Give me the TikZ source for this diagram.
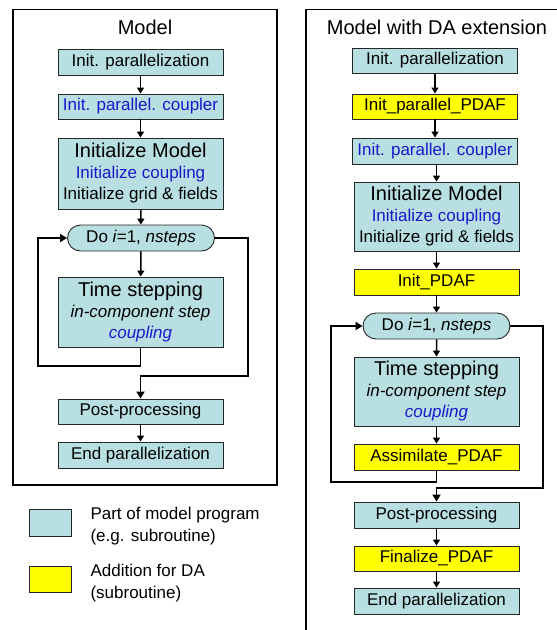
\documentclass[tikz,border=0pt]{standalone}
\usepackage{fontspec}
\setmainfont{Liberation Sans}
\usetikzlibrary{arrows.meta,shapes.misc}
\definecolor{modfill}{RGB}{184,223,226}
\definecolor{dablue}{RGB}{25,25,204}
\definecolor{pdafyellow}{RGB}{255,255,0}
\newcommand{\bigtxt}{\fontsize{20}{23}\selectfont}
\begin{document}
\begin{tikzpicture}[x=1pt,y=-1pt,
  modbox/.style={draw=black!85, line width=0.9pt, fill=modfill, minimum width=165pt,
    inner sep=1pt, align=center, font=\fontsize{17}{21}\selectfont},
  pdafbox/.style={modbox, fill=pdafyellow},
  doloop/.style={rounded rectangle, draw=black!85, line width=0.9pt, fill=modfill,
    minimum width=149pt, minimum height=26pt, inner sep=1pt, font=\fontsize{17}{21}\selectfont},
  arr/.style={line width=1.5pt, -{Triangle[length=6pt,width=7pt]}},
  loopline/.style={line width=1.8pt, -{Triangle[length=7pt,width=8pt]}},
  framel/.style={line width=1.5pt},
  titletxt/.style={font=\bigtxt},
  legtxt/.style={anchor=west, align=left, font=\fontsize{17}{22}\selectfont}]
\useasboundingbox (0,0) rectangle (557,630);
% frames
\draw[framel] (13,9.5) rectangle (277,485);
\draw[framel] (560,9.5) -- (306,9.5) -- (306,635);
% titles
\node[titletxt] (ltitle) at (145,27) {Model};
\node[titletxt] (rtitle) at (437,27) {Model with DA extension};
% left column
\node[modbox, minimum height=26pt] (l1) at (140.5,62) {Init. parallelization};
\node[modbox, minimum height=25pt] (l2) at (140.5,106.5) {\color{dablue}Init. parallel. coupler};
\node[modbox, minimum height=71pt] (l3) at (140.5,173.5) {{\bigtxt Initialize Model}\\{\color{dablue}Initialize coupling}\\Initialize grid \& fields};
\node[doloop] (ldo) at (141,238) {Do \textit{i}=1, \textit{nsteps}};
\node[modbox, minimum height=70pt] (lts) at (140.5,312) {{\bigtxt Time stepping}\\\textit{in-component step}\\{\color{dablue}\textit{coupling}}};
\node[modbox, minimum height=25pt] (lpp) at (140.5,411.5) {Post-processing};
\node[modbox, minimum height=26pt] (lep) at (140.5,455) {End parallelization};
\draw[arr] (l1) -- (l2);
\draw[arr] (l2) -- (l3);
\draw[arr] (l3) -- (ldo);
\draw[arr] (ldo) -- (lts);
\draw[arr] (lpp) -- (lep);
\coordinate (lback) at (38,366);
\coordinate (lexit) at (248,376);
\draw[loopline] (lts.south) |- (lback) |- (ldo.west);
\draw[loopline] (ldo.east) -| (lexit) -| (lpp.north);
% right column
\node[modbox, minimum height=25pt] (r1) at (435,60.5) {Init. parallelization};
\node[pdafbox, minimum height=25pt] (r2) at (435,106.5) {Init\_parallel\_PDAF};
\node[modbox, minimum height=26pt] (r3) at (435,151) {\color{dablue}Init. parallel. coupler};
\node[modbox, minimum height=69pt] (r4) at (436.5,216.5) {{\bigtxt Initialize Model}\\{\color{dablue}Initialize coupling}\\Initialize grid \& fields};
\node[pdafbox, minimum height=26pt] (r5) at (436.5,282) {Init\_PDAF};
\node[doloop] (rdo) at (436.5,326) {Do \textit{i}=1, \textit{nsteps}};
\node[modbox, minimum height=69pt] (rts) at (436.5,391.5) {{\bigtxt Time stepping}\\\textit{in-component step}\\{\color{dablue}\textit{coupling}}};
\node[pdafbox, minimum height=26pt] (ras) at (436.5,457) {Assimilate\_PDAF};
\node[modbox, minimum height=26pt] (rpp) at (436.5,515) {Post-processing};
\node[pdafbox, minimum height=25pt] (rfi) at (436.5,558.5) {Finalize\_PDAF};
\node[modbox, minimum height=26pt] (rep) at (436.5,601) {End parallelization};
\draw[arr] (r1.south -| r2.north) -- (r2.north);
\draw[arr] (r2) -- (r3);
\draw[arr] (r3.south -| r4.north) -- (r4.north);
\draw[arr] (r4) -- (r5);
\draw[arr] (r5) -- (rdo);
\draw[arr] (rdo) -- (rts);
\draw[arr] (rts) -- (ras);
\draw[arr] (rpp) -- (rfi);
\draw[arr] (rfi) -- (rep);
\coordinate (rback) at (331,482);
\coordinate (rexit) at (543,488);
\draw[loopline] (ras.south) |- (rback) |- (rdo.west);
\draw[loopline] (rdo.east) -| (rexit) -| (rpp.north);
% legend
\node[modbox, minimum width=42pt, minimum height=27pt] (legm) at (50,522.5) {};
\node[pdafbox, minimum width=42pt, minimum height=26pt] (legp) at (50,579) {};
\node[legtxt] (legmt) at (87,526) {Part of model program\\(e.g. subroutine)};
\node[legtxt] (legpt) at (87,583) {Addition for DA\\(subroutine)};
\end{tikzpicture}
\end{document}
